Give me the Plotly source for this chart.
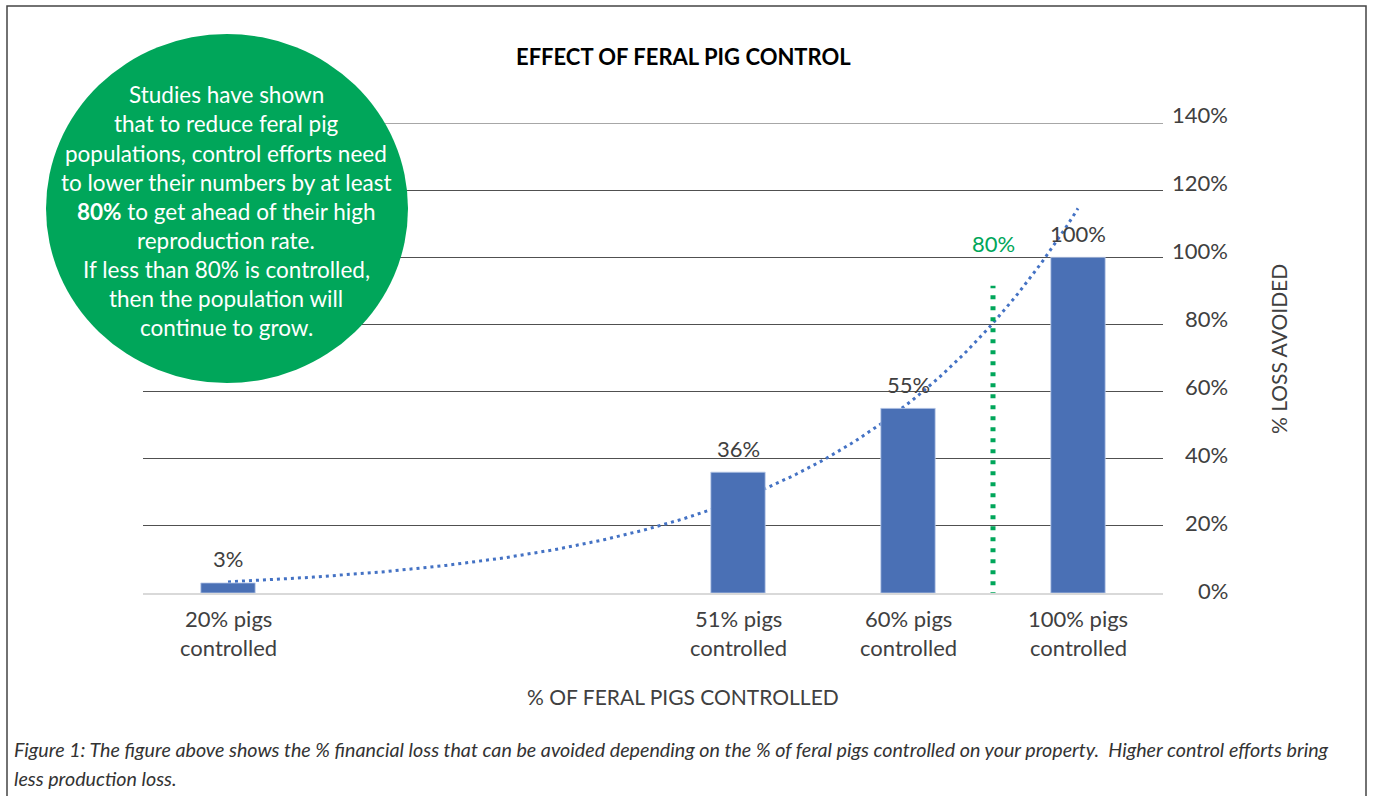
import numpy as np
import plotly.graph_objects as go

# ---------------- data ----------------
categories = ["20% pigs controlled", "", "", "51% pigs controlled",
              "60% pigs controlled", "100% pigs controlled"]
loss_avoided = [3, None, None, 36, 55, 100]          # % loss avoided
y_ticks = [0, 20, 40, 60, 80, 100, 120, 140]
threshold_label = "80%"
threshold_slot = 4.5          # between "60%" and "100%" categories
threshold_top = 91.5          # top of the green dotted marker (axis units)
threshold_label_y = 104

title_text = "EFFECT OF FERAL PIG CONTROL"
x_title = "% OF FERAL PIGS CONTROLLED"
y_title = "% LOSS AVOIDED"
circle_lines = ["Studies have shown", "that to reduce feral pig",
                "populations, control efforts need", "to lower their numbers by at least",
                "<b>80%</b> to get ahead of their high", "reproduction rate.",
                "If less than 80% is controlled,", "then the population will",
                "continue to grow."]
caption_lines = ["Figure 1: The figure above shows the % financial loss that can be avoided depending on the % of feral pigs controlled on your property.  Higher control efforts bring",
                 "less production loss."]

# ---------------- layout helpers ----------------
W, H = 1373, 796
L, R, T, B = 143, 1163, 123, 593
def px(x):
    return (x - L) / (R - L)
def py(y):
    return (B - y) / (B - T)

BAR = "#4A70B5"
TREND = "#4472C4"
GREEN = "#00A65A"
TXT = "#404040"
GRID = "#505050"
FONT = "Lato"

slots = np.arange(len(categories))
mask = np.array([v is not None for v in loss_avoided])
xs = slots[mask]
vals = np.array([v for v in loss_avoided if v is not None], dtype=float)

# exponential trendline (least squares on ln y, as in spreadsheet trendlines)
b, a = np.polyfit(xs + 1, np.log(vals), 1)
tx = np.linspace(xs.min(), xs.max(), 200)
ty = np.exp(a + b * (tx + 1))

fig = go.Figure()
fig.add_trace(go.Scatter(x=tx, y=ty, mode="lines",
                         line=dict(color=TREND, width=3, dash="3px,4px"),
                         hoverinfo="skip", showlegend=False, yaxis="y"))
fig.add_trace(go.Bar(x=xs, y=vals, width=0.32, yaxis="y2",
                     marker=dict(color=BAR, line=dict(color="rgba(190,205,235,0.8)", width=1)),
                     showlegend=False))

fig.update_layout(
    width=W, height=H, margin=dict(l=L, r=W - R, t=T, b=H - B),
    paper_bgcolor="white", plot_bgcolor="white",
    xaxis=dict(range=[-0.5, len(categories) - 0.5], showgrid=False, zeroline=False,
               showticklabels=False, showline=True, linecolor="#d9d9d9", linewidth=2,
               ticks=""),
    yaxis=dict(range=[0, 140], tickvals=y_ticks[1:], showticklabels=False, ticks="",
               showgrid=True, gridcolor=GRID, gridwidth=1.2, zeroline=False,
               side="right"),
    yaxis2=dict(range=[0, 140], overlaying="y", showgrid=False, showticklabels=False,
                zeroline=False, ticks="", side="right"),
    font=dict(family=FONT, color=TXT),
)

# top gridline (plotly omits the grid line on the range edge)
fig.add_shape(type="line", xref="paper", yref="y", x0=0, x1=1, y0=y_ticks[-1], y1=y_ticks[-1],
              line=dict(color=GRID, width=1.2), layer="below")

# green threshold marker
fig.add_shape(type="line", xref="x", yref="y", x0=threshold_slot, x1=threshold_slot,
              y0=-1, y1=threshold_top, line=dict(color=GREEN, width=5, dash="4px,7px"),
              layer="above")
fig.add_annotation(x=threshold_slot, y=threshold_label_y, xref="x", yref="y",
                   text=threshold_label, showarrow=False, xanchor="center", yanchor="middle",
                   font=dict(size=22, color=GREEN, family=FONT))

# bar value labels
for xv, v in zip(xs, vals):
    fig.add_annotation(x=xv, y=v, xref="x", yref="y2", text=f"{v:.0f}%", showarrow=False,
                       xanchor="center", yanchor="middle",
                       yshift=24, font=dict(size=22, color=TXT, family=FONT))

# x category labels (two lines each)
for xv, lab in zip(slots, categories):
    if not lab:
        continue
    parts = lab.split(" ")
    l1, l2 = " ".join(parts[:2]), " ".join(parts[2:])
    for txt, yy in ((l1, 618), (l2, 647)):
        fig.add_annotation(x=xv, y=py(yy), xref="x", yref="paper", text=txt, showarrow=False,
                           xanchor="center", yanchor="middle",
                           font=dict(size=22, color=TXT, family=FONT))

# y tick labels (right aligned, label column slightly taller than the grid)
lab_bottom, lab_top = 590, 115
for t in y_ticks:
    ly = lab_bottom - (lab_bottom - lab_top) * t / y_ticks[-1]
    fig.add_annotation(x=px(1230), y=py(ly), xref="paper", yref="paper", text=f"{t}%",
                       showarrow=False, xanchor="right", yanchor="middle",
                       font=dict(size=22, color=TXT, family=FONT))

# axis titles
fig.add_annotation(x=px(683), y=py(697), xref="paper", yref="paper", text=x_title,
                   showarrow=False, xanchor="center", yanchor="middle",
                   font=dict(size=21, color=TXT, family=FONT))
fig.add_annotation(x=px(1278), y=py(349), xref="paper", yref="paper", text=y_title,
                   showarrow=False, textangle=-90, xanchor="center", yanchor="middle",
                   font=dict(size=21, color=TXT, family=FONT))

# title
fig.add_annotation(x=px(683), y=py(57), xref="paper", yref="paper", text=f"<b>{title_text}</b>",
                   showarrow=False, xanchor="center", yanchor="middle",
                   font=dict(size=22, color="black", family=FONT))

# green circle with text
fig.add_shape(type="circle", xref="paper", yref="paper",
              x0=px(46), x1=px(408), y0=py(383), y1=py(34),
              fillcolor=GREEN, line=dict(width=0), layer="above")
for i, line in enumerate(circle_lines):
    fig.add_annotation(x=px(226), y=py(95 + 29 * i), xref="paper", yref="paper", text=line,
                       showarrow=False, xanchor="center", yanchor="middle",
                       font=dict(size=22.5, color="white", family=FONT))

# caption
for i, line in enumerate(caption_lines):
    fig.add_annotation(x=px(12), y=py(750 + 28 * i), xref="paper", yref="paper",
                       text=f"<i>{line}</i>", showarrow=False, xanchor="left", yanchor="middle",
                       font=dict(size=19.7, color="#333333", family=FONT))

# frame
fig.add_shape(type="rect", xref="paper", yref="paper",
              x0=px(7), x1=px(1366), y0=py(806), y1=py(6),
              line=dict(color="#444444", width=1.5), fillcolor="rgba(0,0,0,0)", layer="above")

fig.write_html("out.html")
